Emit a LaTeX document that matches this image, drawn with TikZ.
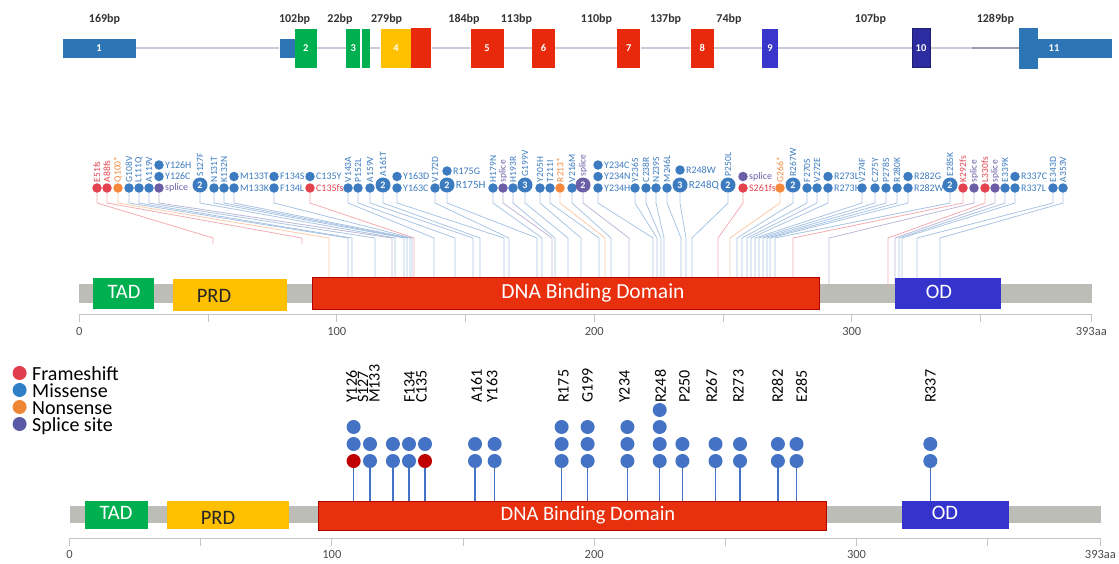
\documentclass[tikz,border=0pt]{standalone}
\usepackage{fontspec}
\setmainfont{Carlito}
\usetikzlibrary{positioning}

\definecolor{exblue}{HTML}{2E75B6}
\definecolor{exgreen}{HTML}{00B050}
\definecolor{exyellow}{HTML}{FFC000}
\definecolor{exred}{HTML}{E8290B}
\definecolor{exviolet}{HTML}{3A36CC}
\definecolor{exnavy}{HTML}{2C2CA0}
\definecolor{introngray}{HTML}{CACAD8}
\definecolor{introndark}{HTML}{9C9CAA}
\definecolor{bptext}{HTML}{333333}
\definecolor{bargray}{HTML}{BDBDB8}
\definecolor{odblue}{HTML}{3434CC}
\definecolor{dbdred}{HTML}{E8300E}
\definecolor{axisgray}{HTML}{C4C4C4}
\definecolor{mis}{HTML}{3C7BBF}
\definecolor{fra}{HTML}{E2434E}
\definecolor{non}{HTML}{F5883A}
\definecolor{spl}{HTML}{6C5EA6}
\definecolor{lolblue}{HTML}{4472C4}
\definecolor{lolred}{HTML}{C00000}
\definecolor{legred}{HTML}{E03E4C}
\definecolor{legblue}{HTML}{2F7FC6}
\definecolor{legorange}{HTML}{EE8636}
\definecolor{legpurple}{HTML}{5A5AA6}

\begin{document}
\begin{tikzpicture}[x=1pt, y=-1pt,
    exon/.style={rectangle, inner sep=0pt, text=white, font=\bfseries\fontsize{10.5}{10.5}\selectfont},
    bplabel/.style={inner sep=0pt, text=bptext, font=\bfseries\fontsize{12}{12}\selectfont},
    intron/.style={draw=introngray, line width=1.6pt},
    protdom/.style={rectangle, inner sep=0pt},
    domtext/.style={inner sep=0pt, font=\fontsize{20.5}{20.5}\selectfont},
    axisline/.style={draw=axisgray, line width=1pt},
    ticklabel/.style={inner sep=0pt, text=black!70, font=\fontsize{12.5}{12.5}\selectfont},
    mdot/.style={circle, inner sep=0pt, minimum size=9.5pt},
    bigdot/.style={circle, inner sep=0pt, minimum size=15pt, text=white, font=\bfseries\fontsize{10}{10}\selectfont},
    rotlab/.style={rotate=90, anchor=west, inner sep=0.8pt, font=\fontsize{9.5}{9.5}\selectfont},
    sidelab/.style={anchor=west, inner sep=1pt, font=\fontsize{10}{10}\selectfont},
    mutlink/.style={line width=0.8pt, opacity=0.8},
    lolli/.style={circle, inner sep=0pt, minimum size=14pt},
    lolstem/.style={draw=lolblue, line width=1.4pt},
    mutlab/.style={rotate=90, anchor=west, inner sep=0pt, font=\fontsize{16}{16}\selectfont},
    legdot/.style={circle, inner sep=0pt, minimum size=14pt},
    legtext/.style={inner sep=0pt, align=left, font=\fontsize{20}{17}\selectfont},
    ]
    \useasboundingbox (0,0) rectangle (1119,563);

    %Exons
    \node[exon, fill=exblue, minimum width=73.2, minimum height=19] (e1) at (99.1,48) {1};
    \node[exon, fill=exblue, minimum width=15, minimum height=19] (e2a) at (287.1,48) {};
    \node[exon, fill=exgreen, minimum width=22.5, minimum height=39] (e2) at (305.8,48) {2};
    \node[exon, fill=exgreen, minimum width=13.6, minimum height=39] (e3) at (353.2,48) {3};
    \node[exon, fill=exgreen, minimum width=7.8, minimum height=39] (e3b) at (365.7,48) {};
    \node[exon, fill=exyellow, minimum width=30.7, minimum height=39] (e4) at (396,48) {4};
    \node[exon, fill=exred, minimum width=20, minimum height=40] (e4b) at (421.4,48) {};
    \node[exon, fill=exred, minimum width=32.9, minimum height=39] (e5) at (487.1,48) {5};
    \node[exon, fill=exred, minimum width=23, minimum height=39] (e6) at (543.5,48) {6};
    \node[exon, fill=exred, minimum width=23.1, minimum height=39] (e7) at (628.8,48) {7};
    \node[exon, fill=exred, minimum width=23.4, minimum height=39] (e8) at (702.3,48) {8};
    \node[exon, fill=exviolet, minimum width=15.6, minimum height=39] (e9) at (770.1,48) {9};
    \node[exon, fill=exnavy, draw=exnavy!70!black, minimum width=18.6, minimum height=39] (e10) at (921,48) {10};
    \node[exon, fill=exblue, minimum width=18.5, minimum height=41] (e11a) at (1028.7,48) {};
    \node[exon, fill=exblue, minimum width=74.5, minimum height=19] (e11) at (1075.2,48) {};
    \node[exon] (n11) at (1054,48) {11};

    %Introns
    \coordinate (d1) at (972,48);
    \foreach \a/\b in {e1/e2a, e2/e3, e3b/e4, e4b/e5, e5/e6, e6/e7, e7/e8, e8/e9, e9/e10, e10/d1}
      \draw[intron] (\a.east) -- (\b.west);
    \draw[intron, draw=introndark] (d1) -- (e11a.west);

    \foreach \x/\t [count=\i] in {104.5/169bp, 294.6/102bp, 340/22bp, 386.6/279bp, 464/184bp, 516.4/113bp,
        596.5/110bp, 665.6/137bp, 729/74bp, 870.5/107bp, 995.4/1289bp}
      \node[bplabel] (b\i) at (\x,19) {\t};

    %Mutations (top), rotated labels
    \foreach \cx/\tx/\ye/\kind/\lab [count=\i] in {
        97/213/244/fra/E51fs, 107/302/244/fra/A88fs, 118/329/285/non/Q100*, 129/348/285/mis/G108V,
        139/352/285/mis/L111Q, 149/375/285/mis/A119V, 214/404/285/mis/N131T, 224/407/285/mis/K132N,
        348/434/285/mis/V143A, 358/455/285/mis/P152L, 370/473/285/mis/A159V, 435/509/285/mis/V172D,
        493/542/285/mis/H179N, 503/552/285/spl/splice, 513/555/285/mis/H193R, 540/581/285/mis/Y205H,
        550/599/285/mis/T211I, 560/605/285/non/R213*, 572/611/285/mis/V216M, 635/657/285/mis/Y236S,
        646/661/285/mis/C238R, 656/664/285/mis/N239S, 667/681/285/mis/M246L, 780/730/285/non/G266*,
        807/742/285/mis/F270S, 817/747/285/mis/V272E, 862/755/285/mis/V274F, 875/759/285/mis/C275Y,
        886/763/285/mis/P278S, 897/767/285/mis/R280K, 963/793/285/fra/K292fs, 974/829/285/spl/splice,
        985/888/285/fra/L330fs, 995/895/285/spl/splice, 1005/899/285/mis/E339K, 1053/917/285/mis/E343D,
        1063/940/285/mis/A353V}{
      \node[mdot, fill=\kind] (m\i) at (\cx,188) {};
      \node[rotlab, text=\kind] (l\i) at (m\i.north) {\lab};
      \coordinate (k\i) at (\cx,203);
      \coordinate (j\i) at (\tx,238);
      \coordinate (t\i) at (\tx,\ye);
      \draw[mutlink, draw=\kind!55] (m\i) -- (k\i) -- (j\i) -- (t\i);
    }

    %Mutations (top), side labels
    \foreach \cx/\tx/\kind/\lab [count=\i] in {
        159/392/spl/splice, 234/410/mis/M133K, 274/412/mis/F134L, 310/414/fra/C135fs, 397/504/mis/Y163C,
        598/653/mis/Y234H, 743/718/fra/S261fs, 828/751/mis/R273H, 908/770/mis/R282W, 1015/902/mis/R337L}{
      \node[mdot, fill=\kind] (h\i) at (\cx,188) {};
      \node[sidelab, text=\kind] (hl\i) at (h\i.east) {\lab};
      \coordinate (hk\i) at (\cx,203);
      \coordinate (hj\i) at (\tx,238);
      \coordinate (ht\i) at (\tx,285);
      \draw[mutlink, draw=\kind!55] (h\i) -- (hk\i) -- (hj\i) -- (ht\i);
    }

    %Recurrent sites (top)
    \foreach \cx/\tx/\kind/\num/\lab [count=\i] in {
        200/395/mis/2/S127F, 383/480/mis/2/A161T, 525/568/mis/3/G199V, 583/629/spl/2/splice,
        728/692/mis/2/P250L, 793/737/mis/2/R267W, 950/775/mis/2/E285K}{
      \node[bigdot, fill=\kind] (n\i) at (\cx,185) {\num};
      \node[rotlab, text=\kind] (nl\i) at (n\i.north) {\lab};
      \coordinate (nk\i) at (\cx,203);
      \coordinate (nj\i) at (\tx,238);
      \coordinate (nt\i) at (\tx,285);
      \draw[mutlink, draw=\kind!55] (n\i) -- (nk\i) -- (nj\i) -- (nt\i);
    }
    \foreach \cx/\tx/\kind/\num/\lab [count=\i] in {447/537/mis/2/R175H, 680/686/mis/3/R248Q}{
      \node[bigdot, fill=\kind] (r\i) at (\cx,185) {\num};
      \node[sidelab, text=\kind, font=\fontsize{11}{11}\selectfont] (rl\i) at (r\i.east) {\lab};
      \coordinate (rk\i) at (\cx,203);
      \coordinate (rj\i) at (\tx,238);
      \coordinate (rt\i) at (\tx,285);
      \draw[mutlink, draw=\kind!55] (r\i) -- (rk\i) -- (rj\i) -- (rt\i);
    }

    %Stacked dots (top)
    \foreach \cx/\cy/\kind/\lab [count=\i] in {
        159/176.5/mis/Y126C, 159/165/mis/Y126H, 234/176.5/mis/M133T, 274/176.5/mis/F134S,
        310/176.5/mis/C135Y, 397/176.5/mis/Y163D, 447/171/mis/R175G, 598/176.5/mis/Y234N,
        598/165/mis/Y234C, 680/170/mis/R248W, 743/176.5/spl/splice, 828/176.5/mis/R273L,
        908/176.5/mis/R282G, 1015/176.5/mis/R337C}{
      \node[mdot, fill=\kind] (x\i) at (\cx,\cy) {};
      \node[sidelab, text=\kind] (xl\i) at (x\i.east) {\lab};
    }

    %Protein (top)
    \node[protdom, fill=bargray, minimum width=1012.7, minimum height=19] (bar1) at (585.6,293) {};
    \node[protdom, fill=exgreen, minimum width=61.4, minimum height=31] (tad1) at (123.6,293.5) {};
    \node[protdom, fill=exyellow, minimum width=114.3, minimum height=32] (prd1) at (230.3,295) {};
    \node[protdom, fill=dbdred, draw=red!70!black, minimum width=506.3, minimum height=32] (dbd1) at (565.6,293) {};
    \node[protdom, fill=odblue, minimum width=106, minimum height=31] (od1) at (948,293.5) {};
    \node[domtext, text=white] (tadt1) at (124,292) {TAD};
    \node[domtext, text=black!85] (prdt1) at (214,296) {PRD};
    \node[domtext, text=white, font=\fontsize{21.5}{21.5}\selectfont] (dbdt1) at (593,293) {DNA Binding Domain};
    \node[domtext, text=white] (odt1) at (939,292) {OD};

    \draw[axisline] (79.3,314) -- (1092,314);
    \foreach \a in {0,50,...,350,393}
      \draw[axisline] ({79.3+2.575*\a},314) -- ++(0,8);
    \foreach \a/\t [count=\i] in {0/0, 100/100, 200/200, 300/300, 393/393aa}
      \node[ticklabel] (a\i) at ({79.3+2.575*\a},331) {\t};

    %Legend
    \foreach \y/\c [count=\i] in {373/legred, 390/legblue, 407/legorange, 424/legpurple}
      \node[legdot, fill=\c] (g\i) at (19.6,\y) {};
    \node[legtext, anchor=north west] (legtxt) at (32,366.5) {Frameshift\\Missense\\Nonsense\\Splice site};

    %Lollipops (bottom)
    \foreach \cx/\lx/\n/\base/\lab [count=\i] in {
        353.6/351.5/3/lolred/Y126, 370/363/2/lolblue/S127, 392.9/374.5/2/lolblue/M133,
        409/409.5/2/lolblue/F134, 425/421.5/2/lolred/C135, 475/476.5/2/lolblue/A161,
        494.6/492/2/lolblue/Y163, 561.6/563.5/3/lolblue/R175, 587.6/587.5/3/lolblue/G199,
        627.4/624.5/3/lolblue/Y234, 659.7/660.5/4/lolblue/R248, 682.4/684.5/2/lolblue/P250,
        715.5/711.5/2/lolblue/R267, 740/738.5/2/lolblue/R273, 777.9/777.5/2/lolblue/R282,
        796.5/801.5/2/lolblue/E285, 930.3/930.5/2/lolblue/R337}{
      \node[lolli, fill=\base] (p\i) at (\cx,461) {};
      \foreach \r in {2,...,\n}
        \node[lolli, fill=lolblue] (p\i-\r) at (\cx,{461-17*(\r-1)}) {};
      \node[mutlab] (q\i) at (\lx,403) {\lab};
      \coordinate (s\i) at (\cx,501);
      \draw[lolstem] (p\i) -- (s\i);
    }

    %Protein (bottom)
    \node[protdom, fill=bargray, minimum width=1031.4, minimum height=17] (bar2) at (585.3,514.5) {};
    \node[protdom, fill=exgreen, minimum width=63.6, minimum height=28] (tad2) at (116.4,515) {};
    \node[protdom, fill=exyellow, minimum width=121.6, minimum height=28] (prd2) at (227.8,515) {};
    \node[protdom, fill=dbdred, draw=red!70!black, minimum width=508.3, minimum height=29] (dbd2) at (572,515.5) {};
    \node[protdom, fill=odblue, minimum width=106.5, minimum height=28] (od2) at (955.7,515) {};
    \node[domtext, text=white] (tadt2) at (116,513) {TAD};
    \node[domtext, text=black!85] (prdt2) at (218,518) {PRD};
    \node[domtext, text=white] (dbdt2) at (588,515) {DNA Binding Domain};
    \node[domtext, text=white] (odt2) at (945,513) {OD};

    \draw[axisline] (69.6,538) -- (1100.4,538);
    \foreach \a in {0,50,...,350,393}
      \draw[axisline] ({69.6+2.623*\a},538) -- ++(0,8);
    \foreach \a/\t [count=\i] in {0/0, 100/100, 200/200, 300/300, 393/393aa}
      \node[ticklabel] (c\i) at ({69.6+2.623*\a},554) {\t};
\end{tikzpicture}
\end{document}
